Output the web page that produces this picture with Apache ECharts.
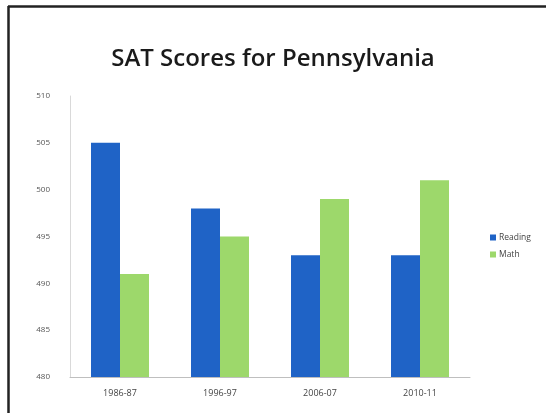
<!DOCTYPE html>
<html><head><meta charset="utf-8">
<script src="https://cdn.jsdelivr.net/npm/echarts@6/dist/echarts.min.js"></script>
<style>html,body{margin:0;padding:0;background:#fff}#c{width:546px;height:413px}</style>
</head><body><div id="c"></div>
<script>
var categories = ['1986-87','1996-97','2006-07','2010-11'];
var reading = [505, 498, 493, 493];
var math = [491, 495, 499, 501];
var yTicks = [480, 485, 490, 495, 500, 505, 510];

var chart = echarts.init(document.getElementById('c'));
chart.setOption({
  animation: false,
  backgroundColor: '#fff',
  title: {
    text: 'SAT Scores for Pennsylvania',
    left: 'center', top: 42,
    textStyle: {fontFamily: 'Open Sans', fontWeight: 600, fontSize: 24, color: '#1a1a1a'}
  },
  graphic: [
    {type: 'line', shape: {x1: 8, y1: 6.5, x2: 546, y2: 6.5}, style: {stroke: '#222', lineWidth: 2.5}},
    {type: 'line', shape: {x1: 8.5, y1: 6, x2: 8.5, y2: 413}, style: {stroke: '#222', lineWidth: 2.5}}
  ],
  legend: {
    orient: 'vertical', left: 485, top: 228, itemWidth: 6, itemHeight: 6, itemGap: 8,
    icon: 'rect',
    textStyle: {fontFamily: 'Open Sans', fontSize: 8.5, color: '#444', padding: [0, 0, 0, -2]},
    data: ['Reading', 'Math']
  },
  grid: {left: 70, right: 76, top: 96, bottom: 36},
  xAxis: {
    type: 'category', data: categories,
    axisLine: {lineStyle: {color: '#bfbfbf'}},
    axisTick: {show: false},
    axisLabel: {fontFamily: 'Open Sans', fontSize: 9, color: '#444', margin: 12}
  },
  yAxis: {
    type: 'value', min: yTicks[0], max: yTicks[yTicks.length-1], interval: 5,
    axisLine: {show: true, lineStyle: {color: '#d9d9d9'}},
    axisTick: {show: false},
    splitLine: {show: false},
    axisLabel: {fontFamily: 'Open Sans', fontSize: 8, color: '#555', margin: 20}
  },
  series: [
    {name: 'Reading', type: 'bar', data: reading, barGap: '0%', barCategoryGap: '42%',
     itemStyle: {color: '#1f63c6'}},
    {name: 'Math', type: 'bar', data: math,
     itemStyle: {color: '#9dd86b'}}
  ]
});
</script></body></html>
